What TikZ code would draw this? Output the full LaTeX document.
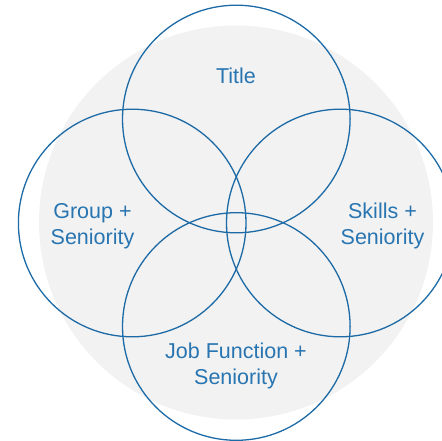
\documentclass[tikz,border=0pt]{standalone}
\usepackage{fontspec}
\setmainfont{Liberation Sans}
\definecolor{vblue}{HTML}{1C6AA6}
\definecolor{tblue}{HTML}{2875B1}
\definecolor{vgray}{HTML}{F2F2F2}
\begin{document}
\begin{tikzpicture}[x=1pt,y=-1pt,
  ring/.style={draw=vblue,line width=1.3pt},
  lbl/.style={text=tblue,font=\fontsize{21.5}{26}\selectfont,align=center,inner sep=0pt,anchor=base}]
\useasboundingbox (0,0) rectangle (441,441);
\fill[vgray] (236,222.5) circle (197);
\coordinate (ct) at (236.3,119);
\coordinate (cb) at (236.3,326.5);
\coordinate (cl) at (132.2,223);
\coordinate (cr) at (340.3,223);
\draw[ring] (ct) circle (113.8);
\draw[ring] (cl) circle (113.8);
\draw[ring] (cr) circle (113.8);
\draw[ring] (cb) circle (113.8);
\node[lbl] (title) at (236,83.3) {Title};
\node[lbl] (group) at (92.5,244) {Group +\\Seniority};
\node[lbl] (skills) at (382.5,244) {Skills +\\Seniority};
\node[lbl] (job) at (236,384) {Job Function +\\Seniority};
\end{tikzpicture}
\end{document}
